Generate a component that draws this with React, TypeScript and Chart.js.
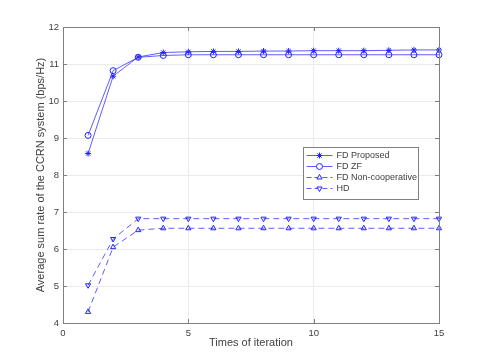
import React, { useEffect, useRef } from "react";
import { Chart, registerables } from "chart.js";
import { drawPoint } from "chart.js/helpers";

Chart.register(...registerables);

const iterations = [1, 2, 3, 4, 5, 6, 7, 8, 9, 10, 11, 12, 13, 14, 15];
const fdProposed = [8.58, 10.67, 11.19, 11.31, 11.33, 11.34, 11.34, 11.35, 11.35, 11.36, 11.36, 11.36, 11.37, 11.38, 11.38];
const fdZF = [9.07, 10.82, 11.18, 11.23, 11.25, 11.25, 11.25, 11.25, 11.25, 11.25, 11.25, 11.25, 11.25, 11.25, 11.25];
const fdNonCoop = [4.3, 6.05, 6.51, 6.56, 6.56, 6.56, 6.56, 6.56, 6.56, 6.56, 6.56, 6.56, 6.56, 6.56, 6.56];
const hd = [5.02, 6.27, 6.82, 6.82, 6.82, 6.82, 6.82, 6.82, 6.82, 6.82, 6.82, 6.82, 6.82, 6.82, 6.82];

const xTicks = [0, 5, 10, 15];
const yTicks = [4, 5, 6, 7, 8, 9, 10, 11, 12];

const seriesNames = ["FD Proposed", "FD ZF", "FD Non-cooperative", "HD"];
const xLabel = "Times of iteration";
const yLabel = "Average sum rate of the CCRN system (bps/Hz)";

const LINE = "rgba(40,40,255,0.75)";
const MARK = "#2222ff";
const AXIS = "#808080";
const TEXT = "#404040";
const FONT = "'Liberation Sans', Arial, Helvetica, sans-serif";

const styles = [
  { pointStyle: "star", rotation: 0, dash: [] as number[] },
  { pointStyle: "circle", rotation: 0, dash: [] as number[] },
  { pointStyle: "triangle", rotation: 0, dash: [6, 4] },
  { pointStyle: "triangle", rotation: 180, dash: [6, 4] },
];

const allSeries = [fdProposed, fdZF, fdNonCoop, hd];

export default function App() {
  const ref = useRef<HTMLCanvasElement>(null);
  useEffect(() => {
    if (!ref.current) return;
    const boxPlugin = {
      id: "boxAndLegend",
      afterDraw(chart: any) {
        const { ctx, chartArea: a, scales } = chart;
        ctx.save();
        ctx.strokeStyle = AXIS;
        ctx.lineWidth = 1;
        ctx.strokeRect(Math.round(a.left) + 0.5, Math.round(a.top) + 0.5, Math.round(a.right - a.left), Math.round(a.bottom - a.top));
        const tl = 4;
        ctx.beginPath();
        yTicks.forEach((v) => {
          const y = Math.round(scales.y.getPixelForValue(v)) + 0.5;
          ctx.moveTo(a.left, y);
          ctx.lineTo(a.left + tl, y);
          ctx.moveTo(a.right, y);
          ctx.lineTo(a.right - tl, y);
        });
        xTicks.forEach((v) => {
          const x = Math.round(scales.x.getPixelForValue(v)) + 0.5;
          ctx.moveTo(x, a.bottom);
          ctx.lineTo(x, a.bottom - tl);
          ctx.moveTo(x, a.top);
          ctx.lineTo(x, a.top + tl);
        });
        ctx.stroke();

        // legend
        const w = a.right - a.left;
        const h = a.bottom - a.top;
        const lx = Math.round(a.left + 0.638 * w) + 0.5;
        const rx = Math.round(a.left + 0.944 * w) + 0.5;
        const ty = Math.round(a.top + 0.405 * h) + 0.5;
        const by = Math.round(a.top + 0.581 * h) + 0.5;
        ctx.fillStyle = "#ffffff";
        ctx.fillRect(lx, ty, rx - lx, by - ty);
        ctx.strokeStyle = AXIS;
        ctx.strokeRect(lx, ty, rx - lx, by - ty);
        ctx.font = `9px ${FONT}`;
        ctx.textBaseline = "middle";
        ctx.textAlign = "left";
        seriesNames.forEach((name, i) => {
          const y = ty + 8 + i * 11;
          const st = styles[i];
          ctx.strokeStyle = LINE;
          ctx.lineWidth = 1;
          ctx.setLineDash(st.dash.length ? [5, 3] : []);
          ctx.beginPath();
          ctx.moveTo(lx + 3, y);
          ctx.lineTo(lx + 29, y);
          ctx.stroke();
          ctx.setLineDash([]);
          ctx.strokeStyle = MARK;
          ctx.fillStyle = "#ffffff";
          drawPoint(ctx, { pointStyle: st.pointStyle as any, rotation: st.rotation, radius: 3, borderWidth: 1 }, lx + 16, y);
          ctx.fillStyle = TEXT;
          ctx.fillText(name, lx + 33, y + 0.5);
        });
        ctx.restore();
      },
    };

    const chart = new Chart(ref.current, {
      type: "line",
      data: {
        datasets: allSeries.map((vals, i) => ({
          label: seriesNames[i],
          data: iterations.map((x, j) => ({ x, y: vals[j] })),
          borderColor: LINE,
          backgroundColor: "rgba(0,0,0,0)",
          pointBorderColor: MARK,
          pointBackgroundColor: "rgba(0,0,0,0)",
          borderWidth: 1,
          borderDash: styles[i].dash,
          pointStyle: styles[i].pointStyle as any,
          pointRotation: styles[i].rotation,
          pointRadius: 3,
          pointBorderWidth: 1,
          tension: 0,
          clip: false as any,
        })),
      },
      options: {
        responsive: false,
        animation: false,
        events: [],
        layout: { padding: { left: 0, top: 27, right: 46, bottom: 0 } },
        plugins: { legend: { display: false }, tooltip: { enabled: false } },
        scales: {
          x: {
            type: "linear",
            min: 0,
            max: 15,
            afterFit: (s: any) => { s.height = 40; },
            afterBuildTicks: (s: any) => { s.ticks = xTicks.map((v) => ({ value: v })); },
            ticks: { color: TEXT, font: { family: FONT, size: 9.5 }, padding: 5, maxRotation: 0 },
            grid: { color: "#ebebeb", drawTicks: false },
            border: { display: false },
            title: { display: true, text: xLabel, color: TEXT, font: { family: FONT, size: 11 }, padding: { top: 0, bottom: 13 } },
          },
          y: {
            type: "linear",
            min: 4,
            max: 12,
            afterFit: (s: any) => { s.width = 63; },
            afterBuildTicks: (s: any) => { s.ticks = yTicks.map((v) => ({ value: v })); },
            ticks: { color: TEXT, font: { family: FONT, size: 9.5 }, padding: 4 },
            grid: { color: "#ebebeb", drawTicks: false },
            border: { display: false },
            title: { display: true, text: yLabel, color: TEXT, font: { family: FONT, size: 11 }, padding: { top: 34, bottom: 0 } },
          },
        },
      },
      plugins: [boxPlugin],
    });
    return () => chart.destroy();
  }, []);

  return (
    <div style={{ position: "fixed", left: 0, top: 0, width: 485, height: 363, background: "#fff" }}>
      <canvas ref={ref} width={485} height={363} style={{ width: 485, height: 363, display: "block" }} />
    </div>
  );
}
